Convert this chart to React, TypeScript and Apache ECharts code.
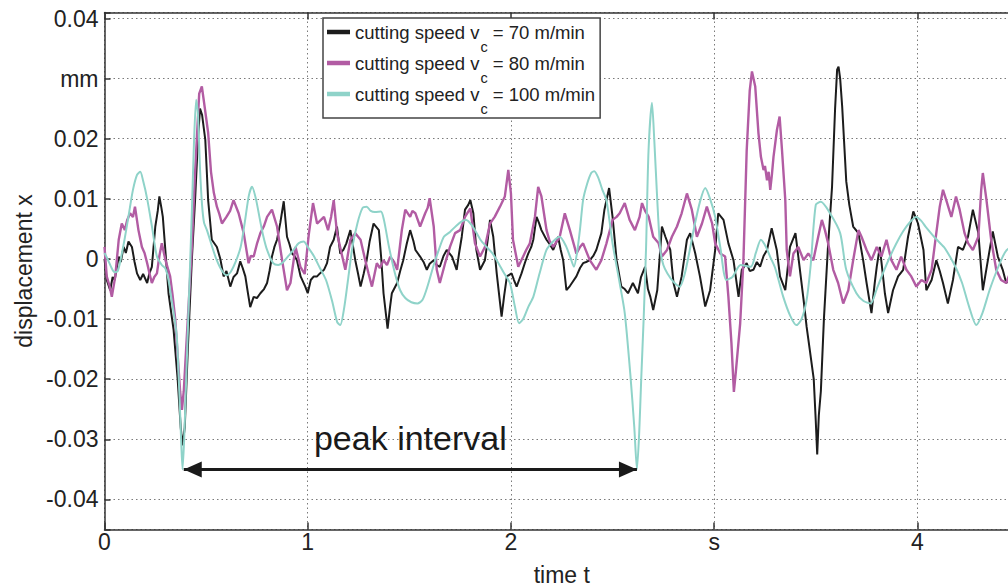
import React, { useEffect, useRef } from 'react';
import * as echarts from 'echarts';

const SERIES_NAMES = [
  'cutting speed v_c = 70 m/min',
  'cutting speed v_c = 80 m/min',
  'cutting speed v_c = 100 m/min',
];
const SERIES_COLORS = ['#1c1c1c', '#b25ca3', '#8fd3c9'];

const X_TICK_VALUES = [0, 1, 2, 3, 4];
const X_TICK_LABELS = ['0', '1', '2', 's', '4'];
const Y_TICK_VALUES = [-0.04, -0.03, -0.02, -0.01, 0, 0.01, 0.02, 0.03, 0.04];
const Y_TICK_LABELS = ['-0.04', '-0.03', '-0.02', '-0.01', '0', '0.01', '0.02', 'mm', '0.04'];

const X_RANGE = [0, 4.5];
const Y_RANGE = [-0.045, 0.041];

const PEAK_INTERVAL: [number, number][] = [[0.39, -0.035], [2.62, -0.035]];

const speed70: [number, number][] = [
  [0.000,0.0000],[0.011,-0.0035],[0.028,-0.0052],[0.040,-0.0030],[0.050,-0.0035],[0.060,-0.0015],[0.070,0.0004],[0.080,-0.0005],[0.094,0.0020],[0.105,0.0010],[0.118,0.0029],[0.135,0.0020],[0.148,-0.0005],[0.160,-0.0024],[0.176,-0.0035],[0.190,-0.0025],[0.210,-0.0040],[0.220,-0.0025],[0.233,-0.0013],[0.250,0.0054],[0.262,0.0080],[0.270,0.0104],[0.280,0.0085],[0.287,0.0070],[0.300,0.0012],[0.315,-0.0057],[0.340,-0.0118],[0.360,-0.0200],[0.375,-0.0280],[0.384,-0.0310],[0.395,-0.0280],[0.410,-0.0150],[0.430,0.0000],[0.446,0.0100],[0.460,0.0200],[0.470,0.0250],[0.480,0.0240],[0.496,0.0198],[0.510,0.0098],[0.528,0.0032],[0.553,0.0020],[0.570,0.0000],[0.586,-0.0029],[0.600,-0.0020],[0.619,-0.0046],[0.635,-0.0030],[0.652,-0.0024],[0.668,-0.0004],[0.680,-0.0015],[0.693,-0.0029],[0.705,-0.0055],[0.717,-0.0080],[0.734,-0.0063],[0.750,-0.0065],[0.767,-0.0057],[0.785,-0.0050],[0.800,-0.0040],[0.812,-0.0020],[0.824,0.0004],[0.836,0.0020],[0.849,0.0032],[0.865,0.0060],[0.882,0.0096],[0.898,0.0037],[0.910,0.0025],[0.923,0.0009],[0.935,0.0005],[0.947,-0.0002],[0.965,-0.0029],[0.988,-0.0046],[1.000,-0.0057],[1.015,-0.0035],[1.030,-0.0029],[1.046,-0.0029],[1.060,-0.0024],[1.080,-0.0018],[1.095,-0.0007],[1.110,0.0020],[1.128,0.0032],[1.144,0.0054],[1.160,0.0009],[1.175,0.0015],[1.190,0.0026],[1.210,0.0048],[1.234,-0.0002],[1.248,-0.0025],[1.260,-0.0046],[1.275,-0.0025],[1.290,-0.0002],[1.305,0.0030],[1.324,0.0059],[1.350,0.0048],[1.362,0.0000],[1.373,-0.0057],[1.393,-0.0116],[1.405,-0.0080],[1.414,-0.0057],[1.440,-0.0040],[1.455,-0.0020],[1.470,-0.0002],[1.487,0.0025],[1.504,0.0048],[1.520,0.0030],[1.530,0.0015],[1.553,0.0004],[1.570,-0.0005],[1.586,-0.0018],[1.600,-0.0008],[1.620,-0.0002],[1.635,-0.0010],[1.650,-0.0013],[1.668,0.0005],[1.684,0.0015],[1.710,0.0004],[1.733,-0.0018],[1.745,0.0010],[1.758,0.0037],[1.774,0.0082],[1.790,0.0090],[1.800,0.0098],[1.815,0.0076],[1.830,0.0015],[1.848,-0.0018],[1.872,-0.0002],[1.885,0.0030],[1.897,0.0065],[1.913,0.0037],[1.930,-0.0024],[1.942,-0.0060],[1.954,-0.0096],[1.967,-0.0060],[1.980,-0.0029],[2.003,-0.0024],[2.015,-0.0035],[2.028,-0.0046],[2.040,-0.0035],[2.052,-0.0024],[2.070,-0.0005],[2.085,0.0009],[2.100,0.0020],[2.110,0.0032],[2.126,0.0070],[2.138,0.0060],[2.150,0.0048],[2.175,0.0032],[2.190,0.0025],[2.208,0.0015],[2.220,0.0025],[2.232,0.0037],[2.245,0.0015],[2.257,-0.0002],[2.273,-0.0052],[2.290,-0.0045],[2.300,-0.0040],[2.322,-0.0029],[2.340,-0.0015],[2.355,-0.0007],[2.370,-0.0005],[2.388,-0.0002],[2.405,0.0005],[2.420,0.0015],[2.445,0.0043],[2.460,0.0082],[2.483,0.0118],[2.500,0.0070],[2.520,-0.0002],[2.543,-0.0046],[2.560,-0.0050],[2.576,-0.0057],[2.600,-0.0040],[2.625,-0.0057],[2.640,-0.0030],[2.660,-0.0013],[2.674,-0.0050],[2.686,-0.0063],[2.700,-0.0085],[2.720,-0.0052],[2.743,0.0054],[2.760,0.0037],[2.784,0.0015],[2.800,-0.0040],[2.817,-0.0063],[2.840,-0.0029],[2.866,0.0032],[2.882,0.0043],[2.907,0.0009],[2.930,-0.0029],[2.956,-0.0079],[2.980,-0.0052],[3.005,0.0015],[3.020,0.0076],[3.046,0.0065],[3.070,0.0026],[3.095,-0.0002],[3.120,-0.0063],[3.136,-0.0018],[3.160,-0.0007],[3.175,-0.0020],[3.193,-0.0018],[3.210,-0.0005],[3.226,-0.0013],[3.243,0.0005],[3.260,0.0015],[3.283,0.0051],[3.308,0.0015],[3.324,-0.0029],[3.350,-0.0052],[3.373,0.0020],[3.400,0.0043],[3.422,-0.0018],[3.440,-0.0068],[3.455,-0.0113],[3.470,-0.0150],[3.490,-0.0200],[3.500,-0.0270],[3.507,-0.0325],[3.515,-0.0260],[3.525,-0.0220],[3.540,-0.0100],[3.560,0.0020],[3.580,0.0120],[3.595,0.0250],[3.605,0.0315],[3.612,0.0320],[3.620,0.0300],[3.630,0.0253],[3.650,0.0129],[3.665,0.0090],[3.684,0.0054],[3.710,0.0043],[3.733,-0.0002],[3.750,-0.0040],[3.774,-0.0090],[3.790,-0.0040],[3.800,-0.0013],[3.815,0.0020],[3.840,-0.0057],[3.856,-0.0090],[3.880,-0.0052],[3.905,-0.0029],[3.930,-0.0018],[3.954,0.0037],[3.980,0.0079],[4.003,0.0059],[4.030,0.0015],[4.044,-0.0052],[4.070,-0.0035],[4.093,-0.0002],[4.110,-0.0020],[4.126,-0.0040],[4.150,-0.0074],[4.175,-0.0035],[4.200,0.0020],[4.224,0.0015],[4.249,0.0037],[4.273,0.0082],[4.300,0.0043],[4.322,-0.0052],[4.347,-0.0002],[4.371,0.0046],[4.396,0.0004],[4.420,-0.0018],[4.437,-0.0040],[4.460,-0.0030],
];

const speed80: [number, number][] = [
  [0.000,0.0020],[0.011,-0.0029],[0.025,-0.0045],[0.036,-0.0063],[0.053,-0.0029],[0.070,0.0032],[0.085,0.0059],[0.100,0.0048],[0.112,0.0065],[0.126,0.0076],[0.140,0.0070],[0.150,0.0087],[0.167,0.0048],[0.184,0.0020],[0.197,0.0010],[0.210,-0.0007],[0.222,-0.0025],[0.233,-0.0040],[0.245,-0.0030],[0.258,-0.0024],[0.270,0.0005],[0.282,0.0026],[0.300,-0.0002],[0.323,-0.0029],[0.335,-0.0060],[0.348,-0.0100],[0.360,-0.0160],[0.372,-0.0220],[0.381,-0.0251],[0.390,-0.0220],[0.410,-0.0100],[0.430,0.0020],[0.445,0.0140],[0.466,0.0275],[0.479,0.0287],[0.490,0.0260],[0.510,0.0210],[0.524,0.0145],[0.538,0.0110],[0.553,0.0087],[0.565,0.0075],[0.578,0.0059],[0.600,0.0070],[0.618,0.0080],[0.635,0.0098],[0.660,0.0076],[0.685,0.0043],[0.709,-0.0007],[0.720,0.0005],[0.734,0.0004],[0.750,0.0025],[0.767,0.0043],[0.785,0.0055],[0.800,0.0070],[0.824,0.0082],[0.849,0.0054],[0.874,-0.0002],[0.898,-0.0052],[0.915,-0.0040],[0.940,0.0020],[0.964,-0.0013],[0.985,-0.0025],[1.005,0.0040],[1.026,0.0093],[1.046,0.0059],[1.065,0.0065],[1.080,0.0070],[1.100,0.0048],[1.115,0.0070],[1.128,0.0098],[1.144,0.0043],[1.170,0.0004],[1.185,-0.0018],[1.210,0.0032],[1.234,0.0043],[1.260,0.0032],[1.283,-0.0002],[1.300,-0.0025],[1.316,-0.0046],[1.340,-0.0007],[1.355,-0.0015],[1.373,-0.0002],[1.390,-0.0010],[1.406,0.0004],[1.425,-0.0005],[1.440,-0.0018],[1.463,0.0048],[1.480,0.0082],[1.504,0.0070],[1.515,0.0080],[1.530,0.0076],[1.553,0.0054],[1.578,0.0076],[1.590,0.0085],[1.600,0.0101],[1.620,0.0054],[1.635,-0.0018],[1.650,-0.0040],[1.676,-0.0007],[1.700,0.0020],[1.725,0.0043],[1.750,0.0048],[1.774,0.0070],[1.800,0.0084],[1.823,0.0026],[1.848,0.0004],[1.872,0.0020],[1.897,0.0059],[1.920,0.0070],[1.946,0.0087],[1.970,0.0104],[1.987,0.0148],[2.000,0.0109],[2.010,0.0032],[2.036,-0.0013],[2.060,0.0004],[2.075,0.0015],[2.093,0.0026],[2.118,0.0070],[2.134,0.0120],[2.150,0.0104],[2.175,0.0048],[2.190,0.0030],[2.208,0.0020],[2.240,0.0037],[2.265,0.0076],[2.290,0.0048],[2.322,0.0009],[2.340,0.0020],[2.355,0.0026],[2.388,-0.0002],[2.420,-0.0018],[2.445,-0.0002],[2.470,0.0026],[2.500,0.0065],[2.520,0.0070],[2.535,0.0076],[2.560,0.0093],[2.584,0.0065],[2.610,0.0048],[2.633,0.0070],[2.645,0.0093],[2.660,0.0080],[2.678,0.0070],[2.700,0.0037],[2.727,0.0026],[2.743,0.0004],[2.768,0.0015],[2.792,0.0037],[2.817,0.0054],[2.840,0.0076],[2.866,0.0109],[2.890,0.0082],[2.915,0.0037],[2.940,0.0059],[2.964,0.0087],[2.990,0.0059],[3.005,0.0026],[3.030,0.0009],[3.054,0.0004],[3.070,-0.0063],[3.085,-0.0140],[3.097,-0.0221],[3.106,-0.0190],[3.128,-0.0107],[3.144,-0.0002],[3.160,0.0180],[3.175,0.0280],[3.186,0.0312],[3.202,0.0287],[3.218,0.0209],[3.230,0.0170],[3.243,0.0148],[3.250,0.0155],[3.260,0.0131],[3.268,0.0145],[3.276,0.0115],[3.284,0.0140],[3.292,0.0170],[3.309,0.0215],[3.322,0.0237],[3.334,0.0180],[3.350,0.0098],[3.357,0.0015],[3.373,-0.0029],[3.390,0.0009],[3.414,0.0020],[3.440,-0.0002],[3.463,0.0009],[3.488,-0.0002],[3.512,0.0037],[3.530,0.0065],[3.545,0.0048],[3.561,0.0026],[3.586,-0.0018],[3.610,-0.0040],[3.635,-0.0074],[3.660,-0.0052],[3.684,-0.0002],[3.710,0.0048],[3.725,0.0037],[3.750,0.0015],[3.774,-0.0002],[3.800,0.0020],[3.823,0.0004],[3.848,0.0032],[3.872,-0.0002],[3.897,-0.0018],[3.920,0.0004],[3.946,-0.0018],[3.970,-0.0029],[3.995,-0.0046],[4.020,-0.0035],[4.044,-0.0040],[4.070,-0.0018],[4.093,0.0043],[4.110,0.0087],[4.126,0.0115],[4.142,0.0098],[4.167,0.0070],[4.190,0.0104],[4.208,0.0082],[4.232,0.0043],[4.250,0.0026],[4.273,0.0015],[4.300,0.0037],[4.314,0.0115],[4.322,0.0143],[4.340,0.0098],[4.363,0.0032],[4.388,-0.0018],[4.412,-0.0035],[4.437,-0.0040],[4.460,-0.0020],
];

const speed100: [number, number][] = [
  [0.000,0.0010],[0.015,0.0000],[0.035,-0.0015],[0.050,-0.0022],[0.065,-0.0020],[0.080,0.0000],[0.100,0.0035],[0.120,0.0075],[0.140,0.0115],[0.160,0.0140],[0.176,0.0145],[0.190,0.0130],[0.210,0.0100],[0.233,0.0055],[0.258,0.0004],[0.282,-0.0010],[0.300,-0.0016],[0.315,-0.0035],[0.330,-0.0068],[0.345,-0.0100],[0.356,-0.0130],[0.368,-0.0220],[0.377,-0.0300],[0.384,-0.0350],[0.392,-0.0300],[0.400,-0.0220],[0.410,-0.0120],[0.420,-0.0020],[0.430,0.0080],[0.440,0.0190],[0.451,0.0265],[0.460,0.0240],[0.470,0.0150],[0.480,0.0090],[0.490,0.0060],[0.504,0.0048],[0.530,0.0020],[0.550,0.0000],[0.575,-0.0018],[0.600,-0.0027],[0.620,-0.0022],[0.645,-0.0005],[0.670,0.0020],[0.690,0.0060],[0.710,0.0105],[0.726,0.0120],[0.745,0.0100],[0.765,0.0065],[0.780,0.0040],[0.800,0.0015],[0.830,-0.0007],[0.855,-0.0010],[0.880,-0.0005],[0.905,0.0005],[0.930,0.0015],[0.955,0.0026],[0.980,0.0029],[1.000,0.0020],[1.030,0.0005],[1.060,-0.0015],[1.090,-0.0035],[1.120,-0.0070],[1.145,-0.0105],[1.160,-0.0110],[1.180,-0.0080],[1.200,-0.0030],[1.220,0.0020],[1.245,0.0060],[1.270,0.0085],[1.290,0.0087],[1.310,0.0080],[1.330,0.0078],[1.360,0.0079],[1.375,0.0065],[1.400,0.0020],[1.430,-0.0025],[1.455,-0.0052],[1.480,-0.0065],[1.510,-0.0072],[1.540,-0.0074],[1.565,-0.0068],[1.590,-0.0045],[1.620,-0.0010],[1.645,0.0015],[1.670,0.0037],[1.700,0.0045],[1.730,0.0055],[1.760,0.0063],[1.780,0.0065],[1.810,0.0055],[1.850,0.0032],[1.880,0.0020],[1.910,0.0009],[1.940,-0.0008],[1.965,-0.0023],[1.995,-0.0040],[2.020,-0.0080],[2.040,-0.0107],[2.060,-0.0100],[2.085,-0.0080],[2.110,-0.0063],[2.140,-0.0025],[2.175,0.0015],[2.210,0.0030],[2.240,0.0037],[2.270,0.0022],[2.295,0.0000],[2.310,-0.0013],[2.325,0.0010],[2.340,0.0050],[2.355,0.0098],[2.375,0.0125],[2.395,0.0143],[2.410,0.0146],[2.430,0.0135],[2.450,0.0115],[2.470,0.0098],[2.500,0.0026],[2.535,-0.0040],[2.560,-0.0090],[2.587,-0.0190],[2.607,-0.0280],[2.620,-0.0350],[2.631,-0.0290],[2.641,-0.0200],[2.653,-0.0100],[2.665,0.0020],[2.677,0.0180],[2.694,0.0260],[2.705,0.0200],[2.720,0.0098],[2.735,0.0015],[2.750,-0.0010],[2.770,-0.0024],[2.800,-0.0038],[2.830,-0.0046],[2.855,-0.0025],[2.880,0.0015],[2.900,0.0050],[2.930,0.0095],[2.956,0.0118],[2.980,0.0100],[3.005,0.0070],[3.030,0.0020],[3.060,-0.0035],[3.090,-0.0030],[3.130,-0.0010],[3.180,-0.0013],[3.205,0.0010],[3.230,0.0032],[3.255,0.0020],[3.275,0.0004],[3.300,-0.0015],[3.340,-0.0063],[3.375,-0.0095],[3.405,-0.0110],[3.430,-0.0100],[3.455,-0.0068],[3.475,-0.0010],[3.500,0.0090],[3.525,0.0095],[3.570,0.0076],[3.620,0.0043],[3.650,-0.0018],[3.700,-0.0057],[3.735,-0.0070],[3.770,-0.0074],[3.800,-0.0050],[3.830,-0.0024],[3.860,0.0000],[3.895,0.0025],[3.930,0.0046],[3.965,0.0062],[3.995,0.0070],[4.020,0.0063],[4.040,0.0054],[4.090,0.0034],[4.130,0.0020],[4.160,0.0004],[4.190,-0.0015],[4.220,-0.0040],[4.255,-0.0080],[4.290,-0.0110],[4.320,-0.0090],[4.355,-0.0052],[4.390,-0.0020],[4.420,0.0004],[4.440,0.0015],[4.460,0.0020],
];

const SERIES_DATA = [speed70, speed80, speed100];

const FONT = "'Liberation Sans', Arial, Helvetica, sans-serif";

function labelFor(values: number[], labels: string[], v: number): string {
  const i = values.findIndex((t) => Math.abs(t - v) < 1e-9);
  return i >= 0 ? labels[i] : '';
}

export default function App() {
  const ref = useRef<HTMLDivElement>(null);

  useEffect(() => {
    if (!ref.current) return;
    const chart = echarts.init(ref.current, undefined, { renderer: 'svg' });
    const axisColor = '#333';
    const gridLine = { show: true, lineStyle: { color: '#7a7a7a', width: 1, type: [1.5, 3] as any } };

    const series: any[] = SERIES_DATA.map((data, i) => ({
      name: SERIES_NAMES[i],
      type: 'line',
      data,
      xAxisIndex: 0,
      yAxisIndex: 0,
      showSymbol: false,
      symbol: 'none',
      smooth: i === 2 ? 0.25 : false,
      color: SERIES_COLORS[i],
      lineStyle: { color: SERIES_COLORS[i], width: i === 1 ? 2.4 : 2 },
      z: 2 + i,
      emphasis: { disabled: true },
    }));

    series[2].markLine = {
      silent: true,
      symbol: ['triangle', 'triangle'],
      symbolSize: [16, 18],
      symbolOffset: [[0, 9], [0, 9]],
      lineStyle: { color: '#1a1a1a', width: 3, type: 'solid' },
      itemStyle: { color: '#1a1a1a' },
      label: {
        show: true,
        position: 'insideMiddleTop',
        distance: 14,
        formatter: 'peak interval',
        fontSize: 34,
        fontFamily: FONT,
        color: '#1a1a1a',
      },
      emphasis: { disabled: true },
      data: [[{ coord: PEAK_INTERVAL[0] }, { coord: PEAK_INTERVAL[1] }]],
    };

    chart.setOption({
      animation: false,
      backgroundColor: '#ffffff',
      textStyle: { fontFamily: FONT },
      grid: { left: 104.5, right: 0, top: 12.5, bottom: 57.5, containLabel: false, outerBoundsMode: 'none' },
      legend: {
        data: SERIES_NAMES,
        orient: 'vertical',
        left: 323,
        top: 18,
        padding: [4, 5, 2, 4],
        itemGap: -1,
        itemWidth: 23,
        itemHeight: 4.5,
        icon: 'rect',
        backgroundColor: '#ffffff',
        borderColor: '#444',
        borderWidth: 1.5,
        selectedMode: false,
        formatter: (name: string) => {
          const [a, b] = name.split('v_c');
          return `{n|${a}v}{sub|c}{n|${b}}`;
        },
        textStyle: {
          color: '#222',
          fontFamily: FONT,
          rich: {
            n: { fontSize: 18.5, lineHeight: 20, fontFamily: FONT, color: '#222' },
            sub: { fontSize: 14.5, lineHeight: 20, padding: [17, 0, 0, 1], verticalAlign: 'top', fontFamily: FONT, color: '#222' },
          },
        },
      },
      xAxis: [
        {
          type: 'value',
          position: 'bottom',
          min: X_RANGE[0],
          max: X_RANGE[1],
          interval: 1,
          name: 'time t',
          nameLocation: 'middle',
          nameGap: 34,
          nameTextStyle: { fontSize: 23, color: '#222', fontFamily: FONT },
          axisLine: { onZero: false, lineStyle: { color: axisColor, width: 1.5 } },
          axisTick: { inside: true, length: 7, lineStyle: { color: axisColor, width: 1.5 } },
          axisLabel: {
            fontSize: 23,
            color: '#222',
            fontFamily: FONT,
            margin: 1,
            showMaxLabel: false,
            formatter: (v: number) => labelFor(X_TICK_VALUES, X_TICK_LABELS, v),
          },
          splitLine: gridLine,
        },
        {
          type: 'value',
          position: 'top',
          min: X_RANGE[0],
          max: X_RANGE[1],
          interval: 1,
          axisLine: { onZero: false, lineStyle: { color: axisColor, width: 1.5 } },
          axisTick: { inside: true, length: 7, lineStyle: { color: axisColor, width: 1.5 } },
          axisLabel: { show: false },
          splitLine: { show: false },
        },
      ],
      yAxis: {
        type: 'value',
        min: Y_RANGE[0],
        max: Y_RANGE[1],
        splitNumber: 9,
        name: 'displacement x',
        nameLocation: 'middle',
        nameGap: 68,
        nameRotate: 90,
        nameTextStyle: { fontSize: 23, color: '#222', fontFamily: FONT },
        axisLine: { onZero: false, lineStyle: { color: axisColor, width: 1.5 } },
        axisTick: { inside: true, length: 6, lineStyle: { color: axisColor, width: 1.5 } },
        axisLabel: {
          fontSize: 23,
          color: '#222',
          fontFamily: FONT,
          margin: 6,
          formatter: (v: number) => labelFor(Y_TICK_VALUES, Y_TICK_LABELS, v),
        },
        splitLine: gridLine,
      },
      series,
    });

    return () => chart.dispose();
  }, []);

  return (
    <div
      style={{ position: 'absolute', left: 0, top: 0, width: 1008, height: 587, overflow: 'hidden', background: '#fff' }}
    >
      <div ref={ref} style={{ width: 1019, height: 587 }} />
    </div>
  );
}
